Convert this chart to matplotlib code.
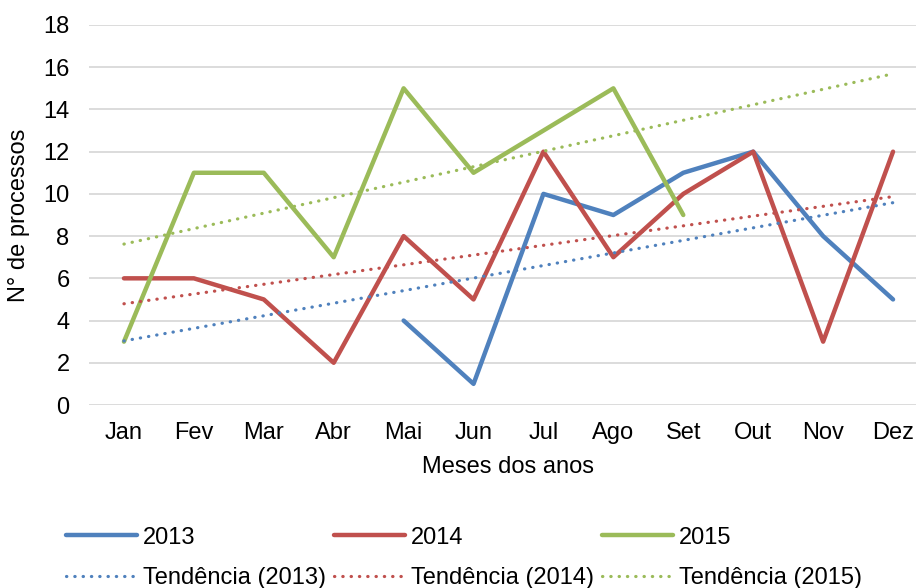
import matplotlib.pyplot as plt
import numpy as np

plt.rcParams['font.family'] = ['Liberation Sans', 'DejaVu Sans']

meses = ["Jan", "Fev", "Mar", "Abr", "Mai", "Jun", "Jul", "Ago", "Set", "Out", "Nov", "Dez"]
nan = np.nan
v2013 = [nan, nan, nan, nan, 4, 1, 10, 9, 11, 12, 8, 5]
v2014 = [6, 6, 5, 2, 8, 5, 12, 7, 10, 12, 3, 12]
v2015 = [3, 11, 11, 7, 15, 11, 13, 15, 9, nan, nan, nan]

series = [("2013", v2013, "#4F81BD"), ("2014", v2014, "#C0504D"), ("2015", v2015, "#9BBB59")]

fs = 17
fig = plt.figure(figsize=(9.16, 5.88), dpi=100)
ax = fig.add_axes([89 / 916, (588 - 405) / 588, (928 - 89) / 916, (405 - 25) / 588])

x = np.arange(1, 13)
handles = []
for nome, vals, cor in series:
    y = np.array(vals, dtype=float)
    ok = ~np.isnan(y)
    l, = ax.plot(x, y, color=cor, lw=3.2, solid_capstyle='round', solid_joinstyle='round', zorder=3)
    # linha de tendência linear (como no Excel)
    a, b = np.polyfit(x[ok], y[ok], 1)
    t, = ax.plot(x, a * x + b, color=cor, lw=2.3, linestyle=(0, (0.1, 2.5)),
                 dash_capstyle='round', zorder=4)
    l.set_label(nome)
    t.set_label("Tendência (%s)" % nome)
    handles += [l, t]

ax.set_xlim(0.5, 12.5)
ax.set_ylim(0, 18)
ax.set_yticks(range(0, 19, 2))
ax.set_xticks(x)
ax.set_xticklabels(meses)
ax.tick_params(length=0, labelsize=fs)
ax.tick_params(axis='x', pad=12)
ax.tick_params(axis='y', pad=14)
ax.grid(axis='y', color='#D9D9D9', lw=1.3)
ax.set_axisbelow(True)
for s in ax.spines.values():
    s.set_visible(False)

fig.text(508 / 916, 1 - 467 / 588, "Meses dos anos", fontsize=fs, ha='center', va='center')
fig.text(19 / 916, 1 - 215 / 588, "N° de processos", rotation=90, fontsize=fs,
         ha='center', va='center')

fig.legend(handles=handles, loc='center', bbox_to_anchor=(464 / 916, 1 - 558 / 588),
           ncol=3, frameon=False, fontsize=fs, handlelength=2.97, handletextpad=0.25,
           columnspacing=0.38, labelspacing=0.79, borderpad=0)

fig.savefig("out.png", dpi=100)
